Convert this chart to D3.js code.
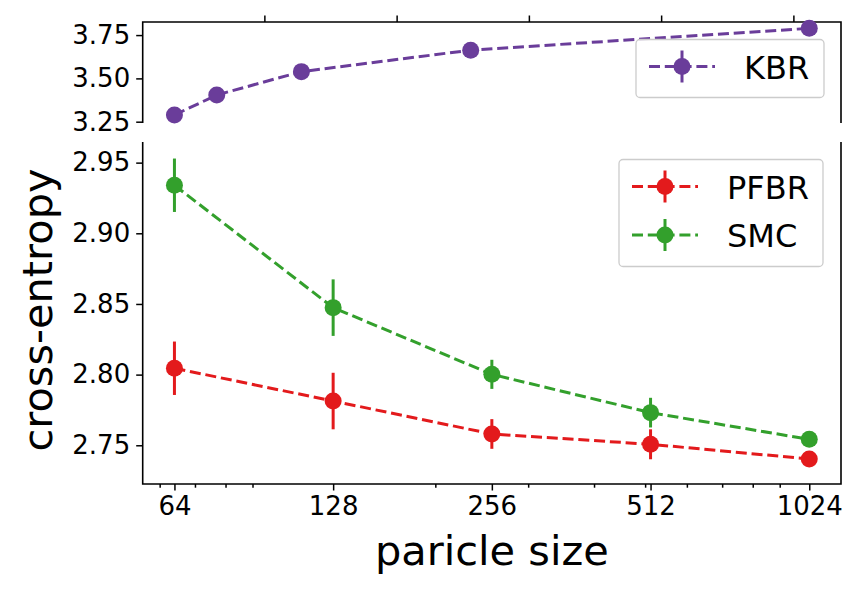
<!DOCTYPE html>
<html>
<head>
<meta charset="utf-8">
<script src="https://cdn.jsdelivr.net/npm/d3@7"></script>
<style>
  body { margin: 0; background: #fff; }
  svg text { font-family: "DejaVu Sans", sans-serif; fill: #000; }
</style>
</head>
<body>
<div id="chart"></div>
<script>
// particle sizes (x values)
var sizes = [64, 128, 256, 512, 1024];

// series values and error bars
var kbr = [3.289, 3.404, 3.539, 3.663, 3.789];
var kbrErr = [0, 0, 0, 0, 0];
var pfbr = [2.8045, 2.7813, 2.758, 2.7507, 2.7403];
var pfbrErr = [0.0189, 0.02, 0.0105, 0.0106, 0.0035];
var smc = [2.934, 2.8474, 2.8002, 2.7731, 2.7542];
var smcErr = [0.0189, 0.02, 0.0103, 0.0105, 0.0035];

// tick values
var topYTicks = [3.25, 3.50, 3.75];
var topXTicks = [200, 400, 600, 800, 1000];
var botYTicks = [2.75, 2.80, 2.85, 2.90, 2.95];
var botXTicks = [64, 128, 256, 512, 1024];
var botXMinor = [60, 70, 80, 90, 200, 300, 400, 500, 600, 700, 800, 900];

var colors = { KBR: "#6a3d9a", PFBR: "#e31a1c", SMC: "#33a02c" };

var width = 863, height = 591;
var svg = d3.select("#chart").append("svg").attr("width", width).attr("height", height);

// panel geometry
var left = 142.7, right = 841;
var topPanel = { top: 22, bottom: 123 };
var botPanel = { top: 142, bottom: 484 };

// scales
var xTop = d3.scaleLinear().domain([16, 1072]).range([left, right]);
var xBot = d3.scaleLog().base(2).domain([64 * Math.pow(2, -0.2), 1024 * Math.pow(2, 0.2)]).range([left, right]);
var yTop = d3.scaleLinear().domain([3.2425, 3.8255]).range([topPanel.bottom, topPanel.top]);
var yBot = d3.scaleLinear().domain([2.7226, 2.9646]).range([botPanel.bottom, botPanel.top]);

function styleAxis(g, fontSize) {
  g.select(".domain").remove();
  g.selectAll(".tick line").attr("stroke", "#000").attr("stroke-width", 1.5);
  g.selectAll(".tick text").attr("font-size", fontSize).attr("font-family", "DejaVu Sans").attr("fill", "#000");
}

// top panel axes
svg.append("g").attr("transform", "translate(" + left + ",0)")
  .call(d3.axisLeft(yTop).tickValues(topYTicks).tickFormat(d3.format(".2f")).tickSize(6.5).tickPadding(6))
  .call(styleAxis, 26);
svg.append("g").attr("transform", "translate(0," + topPanel.top + ")")
  .call(d3.axisTop(xTop).tickValues(topXTicks).tickFormat("").tickSize(6.5))
  .call(styleAxis, 26);

// bottom panel axes
svg.append("g").attr("transform", "translate(" + left + ",0)")
  .call(d3.axisLeft(yBot).tickValues(botYTicks).tickFormat(d3.format(".2f")).tickSize(6.5).tickPadding(6))
  .call(styleAxis, 26);
svg.append("g").attr("transform", "translate(0," + botPanel.bottom + ")")
  .call(d3.axisBottom(xBot).tickValues(botXMinor).tickFormat("").tickSize(3.7))
  .call(styleAxis, 26);
svg.append("g").attr("transform", "translate(0," + botPanel.bottom + ")")
  .call(d3.axisBottom(xBot).tickValues(botXTicks).tickFormat(d3.format("d")).tickSize(6.5).tickPadding(6))
  .call(styleAxis, 26);

// spines (broken axis: no bottom spine on top panel, no top spine on bottom panel)
var spines = svg.append("g").attr("stroke", "#000").attr("stroke-width", 1.6).attr("fill", "none");
spines.append("path").attr("d", "M" + left + "," + topPanel.bottom + "V" + topPanel.top + "H" + right + "V" + topPanel.bottom);
spines.append("path").attr("d", "M" + left + "," + botPanel.top + "V" + botPanel.bottom + "H" + right + "V" + botPanel.top);

// draw an errorbar series
function drawSeries(x, y, vals, errs, color) {
  var g = svg.append("g");
  var pts = sizes.map(function(s, i) { return { x: s, y: vals[i], e: errs[i] }; });
  g.append("path")
    .datum(pts)
    .attr("fill", "none")
    .attr("stroke", color)
    .attr("stroke-width", 3)
    .attr("stroke-dasharray", "11,4.8")
    .attr("d", d3.line().x(function(d) { return x(d.x); }).y(function(d) { return y(d.y); }));
  g.selectAll(".err").data(pts).enter().append("line")
    .attr("x1", function(d) { return x(d.x); })
    .attr("x2", function(d) { return x(d.x); })
    .attr("y1", function(d) { return y(d.y - d.e); })
    .attr("y2", function(d) { return y(d.y + d.e); })
    .attr("stroke", color)
    .attr("stroke-width", 3);
  g.selectAll("circle").data(pts).enter().append("circle")
    .attr("cx", function(d) { return x(d.x); })
    .attr("cy", function(d) { return y(d.y); })
    .attr("r", 8.5)
    .attr("fill", color);
}

drawSeries(xTop, yTop, kbr, kbrErr, colors.KBR);
drawSeries(xBot, yBot, pfbr, pfbrErr, colors.PFBR);
drawSeries(xBot, yBot, smc, smcErr, colors.SMC);

// legends
function legend(x0, y0, w, h, items) {
  var g = svg.append("g").attr("transform", "translate(" + x0 + "," + y0 + ")");
  g.append("rect").attr("width", w).attr("height", h).attr("rx", 4)
    .attr("fill", "#fff").attr("fill-opacity", 0.8)
    .attr("stroke", "#ccc").attr("stroke-width", 1.3);
  items.forEach(function(it, i) {
    var cy = it.dy;
    g.append("line").attr("x1", 13).attr("x2", 79).attr("y1", cy).attr("y2", cy)
      .attr("stroke", it.color).attr("stroke-width", 3).attr("stroke-dasharray", "11,4.8");
    g.append("line").attr("x1", 46).attr("x2", 46).attr("y1", cy - 16).attr("y2", cy + 16)
      .attr("stroke", it.color).attr("stroke-width", 3);
    g.append("circle").attr("cx", 46).attr("cy", cy).attr("r", 8.5).attr("fill", it.color);
    g.append("text").attr("x", 108).attr("y", cy + 12).attr("font-size", 32).text(it.name);
  });
}

legend(636, 39.5, 188, 58, [{ name: "KBR", color: colors.KBR, dy: 27 }]);
legend(619, 159.5, 204, 107, [
  { name: "PFBR", color: colors.PFBR, dy: 27 },
  { name: "SMC", color: colors.SMC, dy: 75.5 }
]);

// axis labels
svg.append("text").attr("x", (left + right) / 2).attr("y", 565)
  .attr("text-anchor", "middle").attr("font-size", 41.5).text("paricle size");
svg.append("text").attr("transform", "translate(52,310) rotate(-90)")
  .attr("text-anchor", "middle").attr("font-size", 41.5).text("cross-entropy");
</script>
</body>
</html>
